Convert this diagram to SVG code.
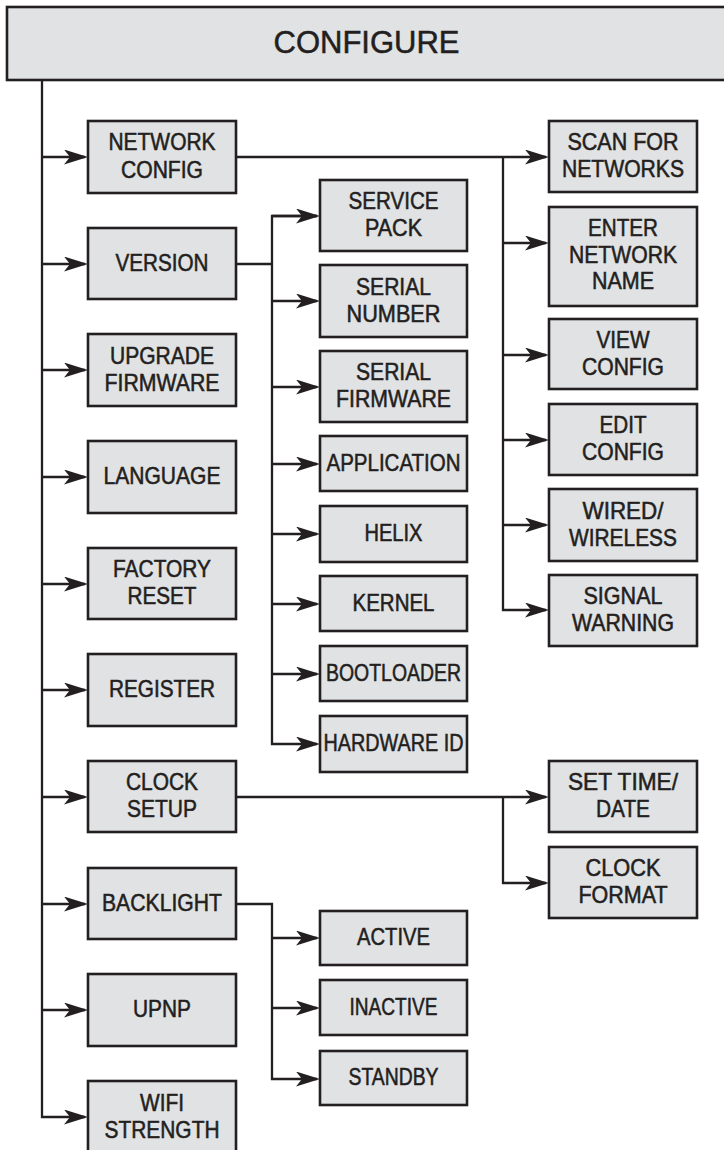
<svg xmlns="http://www.w3.org/2000/svg" width="724" height="1150" viewBox="0 0 724 1150">
<style>
.box{fill:#e1e2e4;stroke:#231f20;stroke-width:2.6}
.lbl{font-family:'Liberation Sans',Arial,sans-serif;font-size:24px;fill:#231f20;stroke:#231f20;stroke-width:0.55;text-anchor:middle}
.hdr{font-family:'Liberation Sans',Arial,sans-serif;font-size:31px;fill:#231f20;stroke:#231f20;stroke-width:0.5;text-anchor:middle}
.con path{fill:none;stroke:#231f20;stroke-width:2.3;stroke-linejoin:miter}
.con path.a{marker-end:url(#arr)}
</style>
<defs>
<marker id="arr" viewBox="0 0 24 15" refX="21" refY="7.5" markerWidth="24" markerHeight="15" markerUnits="userSpaceOnUse" orient="auto">
<path d="M0,0 L24,7.5 L0,15 L6,7.5 Z" fill="#231f20"/>
</marker>
</defs>

<g id="configure">
<rect class="box" x="7" y="7" width="730" height="73"/>
<text class="hdr" x="366.5" y="53">CONFIGURE</text>
</g>

<g class="con" id="connectors">
<path class="a" d="M42,80 V1117 H85"/>
<path class="a" d="M42,157 H85"/>
<path class="a" d="M42,264 H85"/>
<path class="a" d="M42,370 H85"/>
<path class="a" d="M42,477 H85"/>
<path class="a" d="M42,584 H85"/>
<path class="a" d="M42,690 H85"/>
<path class="a" d="M42,797 H85"/>
<path class="a" d="M42,904 H85"/>
<path class="a" d="M42,1010 H85"/>
<path class="a" d="M236,157 H546"/>
<path class="a" d="M503,157 V610 H546"/>
<path class="a" d="M503,243 H546"/>
<path class="a" d="M503,355 H546"/>
<path class="a" d="M503,440 H546"/>
<path class="a" d="M503,525 H546"/>
<path d="M236,264 H272"/>
<path class="a" d="M317,216 H272 V744 H317"/>
<path class="a" d="M272,216 H317"/>
<path class="a" d="M272,301 H317"/>
<path class="a" d="M272,387 H317"/>
<path class="a" d="M272,464 H317"/>
<path class="a" d="M272,534 H317"/>
<path class="a" d="M272,604 H317"/>
<path class="a" d="M272,674 H317"/>
<path class="a" d="M236,797 H546"/>
<path class="a" d="M503,797 V883 H546"/>
<path class="a" d="M236,904 H272 V1079 H317"/>
<path class="a" d="M272,938 H317"/>
<path class="a" d="M272,1008 H317"/>
</g>

<g id="network-config"><rect class="box" x="88" y="121" width="148" height="72"/><text class="lbl" x="162" y="150" textLength="107" lengthAdjust="spacingAndGlyphs">NETWORK</text><text class="lbl" x="162" y="177.5" textLength="82" lengthAdjust="spacingAndGlyphs">CONFIG</text></g>
<g id="version"><rect class="box" x="88" y="228" width="148" height="71"/><text class="lbl" x="162" y="270.5" textLength="93" lengthAdjust="spacingAndGlyphs">VERSION</text></g>
<g id="upgrade-firmware"><rect class="box" x="88" y="334" width="148" height="72"/><text class="lbl" x="162" y="363.5" textLength="104" lengthAdjust="spacingAndGlyphs">UPGRADE</text><text class="lbl" x="162" y="390.5" textLength="115" lengthAdjust="spacingAndGlyphs">FIRMWARE</text></g>
<g id="language"><rect class="box" x="88" y="441" width="148" height="72"/><text class="lbl" x="162" y="484" textLength="117" lengthAdjust="spacingAndGlyphs">LANGUAGE</text></g>
<g id="factory-reset"><rect class="box" x="88" y="548" width="148" height="71"/><text class="lbl" x="162" y="577" textLength="98" lengthAdjust="spacingAndGlyphs">FACTORY</text><text class="lbl" x="162" y="604" textLength="69" lengthAdjust="spacingAndGlyphs">RESET</text></g>
<g id="register"><rect class="box" x="88" y="654" width="148" height="72"/><text class="lbl" x="162" y="697" textLength="106" lengthAdjust="spacingAndGlyphs">REGISTER</text></g>
<g id="clock-setup"><rect class="box" x="88" y="761" width="148" height="71"/><text class="lbl" x="162" y="790" textLength="72" lengthAdjust="spacingAndGlyphs">CLOCK</text><text class="lbl" x="162" y="817" textLength="70" lengthAdjust="spacingAndGlyphs">SETUP</text></g>
<g id="backlight"><rect class="box" x="88" y="868" width="148" height="71"/><text class="lbl" x="162" y="910.5" textLength="120" lengthAdjust="spacingAndGlyphs">BACKLIGHT</text></g>
<g id="upnp"><rect class="box" x="88" y="974" width="148" height="72"/><text class="lbl" x="162" y="1017" textLength="58" lengthAdjust="spacingAndGlyphs">UPNP</text></g>
<g id="wifi-strength"><rect class="box" x="88" y="1081" width="148" height="72"/><text class="lbl" x="162" y="1110.5" textLength="44" lengthAdjust="spacingAndGlyphs">WIFI</text><text class="lbl" x="162" y="1137.5" textLength="115" lengthAdjust="spacingAndGlyphs">STRENGTH</text></g>

<g id="service-pack"><rect class="box" x="320" y="180" width="147" height="71"/><text class="lbl" x="393.5" y="209" textLength="90" lengthAdjust="spacingAndGlyphs">SERVICE</text><text class="lbl" x="393.5" y="235.5" textLength="57" lengthAdjust="spacingAndGlyphs">PACK</text></g>
<g id="serial-number"><rect class="box" x="320" y="265" width="147" height="72"/><text class="lbl" x="393.5" y="294.5" textLength="75" lengthAdjust="spacingAndGlyphs">SERIAL</text><text class="lbl" x="393.5" y="321.5" textLength="94" lengthAdjust="spacingAndGlyphs">NUMBER</text></g>
<g id="serial-firmware"><rect class="box" x="320" y="351" width="147" height="71"/><text class="lbl" x="393.5" y="380" textLength="75" lengthAdjust="spacingAndGlyphs">SERIAL</text><text class="lbl" x="393.5" y="407" textLength="115" lengthAdjust="spacingAndGlyphs">FIRMWARE</text></g>
<g id="application"><rect class="box" x="320" y="436" width="147" height="55"/><text class="lbl" x="393.5" y="470.5" textLength="134" lengthAdjust="spacingAndGlyphs">APPLICATION</text></g>
<g id="helix"><rect class="box" x="320" y="506" width="147" height="56"/><text class="lbl" x="393.5" y="541" textLength="58" lengthAdjust="spacingAndGlyphs">HELIX</text></g>
<g id="kernel"><rect class="box" x="320" y="576" width="147" height="55"/><text class="lbl" x="393.5" y="610.5" textLength="82" lengthAdjust="spacingAndGlyphs">KERNEL</text></g>
<g id="bootloader"><rect class="box" x="320" y="646" width="147" height="55"/><text class="lbl" x="393.5" y="680.5" textLength="135" lengthAdjust="spacingAndGlyphs">BOOTLOADER</text></g>
<g id="hardware-id"><rect class="box" x="320" y="716" width="147" height="56"/><text class="lbl" x="393.5" y="751" textLength="140" lengthAdjust="spacingAndGlyphs">HARDWARE ID</text></g>

<g id="active"><rect class="box" x="320" y="911" width="147" height="54"/><text class="lbl" x="393.5" y="945" textLength="73" lengthAdjust="spacingAndGlyphs">ACTIVE</text></g>
<g id="inactive"><rect class="box" x="320" y="980" width="147" height="55"/><text class="lbl" x="393.5" y="1014.5" textLength="88" lengthAdjust="spacingAndGlyphs">INACTIVE</text></g>
<g id="standby"><rect class="box" x="320" y="1051" width="147" height="54"/><text class="lbl" x="393.5" y="1085" textLength="90" lengthAdjust="spacingAndGlyphs">STANDBY</text></g>

<g id="scan-for-networks"><rect class="box" x="549" y="121" width="148" height="71"/><text class="lbl" x="623" y="150" textLength="111" lengthAdjust="spacingAndGlyphs">SCAN FOR</text><text class="lbl" x="623" y="177" textLength="122" lengthAdjust="spacingAndGlyphs">NETWORKS</text></g>
<g id="enter-network-name"><rect class="box" x="549" y="207" width="148" height="99"/><text class="lbl" x="623" y="236" textLength="70" lengthAdjust="spacingAndGlyphs">ENTER</text><text class="lbl" x="623" y="263" textLength="108" lengthAdjust="spacingAndGlyphs">NETWORK</text><text class="lbl" x="623" y="289" textLength="62" lengthAdjust="spacingAndGlyphs">NAME</text></g>
<g id="view-config"><rect class="box" x="549" y="319" width="148" height="70"/><text class="lbl" x="623" y="347.5" textLength="53" lengthAdjust="spacingAndGlyphs">VIEW</text><text class="lbl" x="623" y="374.5" textLength="82" lengthAdjust="spacingAndGlyphs">CONFIG</text></g>
<g id="edit-config"><rect class="box" x="549" y="404" width="148" height="71"/><text class="lbl" x="623" y="433" textLength="47" lengthAdjust="spacingAndGlyphs">EDIT</text><text class="lbl" x="623" y="460" textLength="82" lengthAdjust="spacingAndGlyphs">CONFIG</text></g>
<g id="wired-wireless"><rect class="box" x="549" y="489" width="148" height="72"/><text class="lbl" x="623" y="518.5" textLength="81" lengthAdjust="spacingAndGlyphs">WIRED/</text><text class="lbl" x="623" y="545.5" textLength="108" lengthAdjust="spacingAndGlyphs">WIRELESS</text></g>
<g id="signal-warning"><rect class="box" x="549" y="575" width="148" height="71"/><text class="lbl" x="623" y="604" textLength="79" lengthAdjust="spacingAndGlyphs">SIGNAL</text><text class="lbl" x="623" y="631" textLength="102" lengthAdjust="spacingAndGlyphs">WARNING</text></g>
<g id="set-time-date"><rect class="box" x="549" y="761" width="148" height="71"/><text class="lbl" x="623" y="790" textLength="110" lengthAdjust="spacingAndGlyphs">SET TIME/</text><text class="lbl" x="623" y="817" textLength="54" lengthAdjust="spacingAndGlyphs">DATE</text></g>
<g id="clock-format"><rect class="box" x="549" y="847" width="148" height="71"/><text class="lbl" x="623" y="876" textLength="75" lengthAdjust="spacingAndGlyphs">CLOCK</text><text class="lbl" x="623" y="903" textLength="89" lengthAdjust="spacingAndGlyphs">FORMAT</text></g>
</svg>
